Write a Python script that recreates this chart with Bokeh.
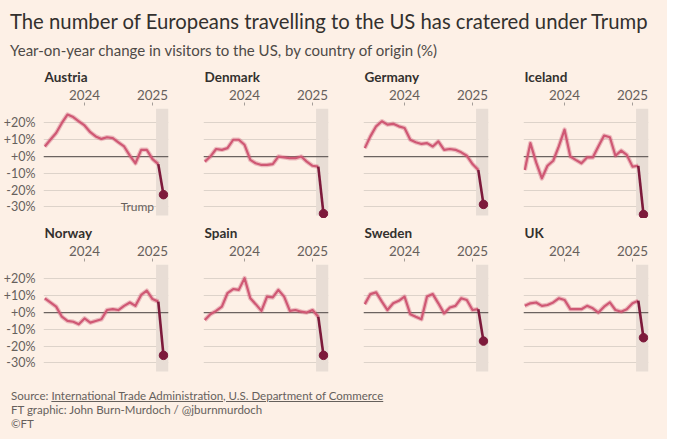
import pandas as pd
from bokeh.plotting import figure
from bokeh.models import (ColumnDataSource, FixedTicker, DatetimeTickFormatter, Span, Div,
                          Range1d, BoxAnnotation, LinearAxis)
from bokeh.layouts import column, row
from bokeh.embed import file_html
from bokeh.resources import INLINE
from bokeh.core.properties import value

# ---------------- data ----------------
months = ["2023-06", "2023-07", "2023-08", "2023-09", "2023-10", "2023-11", "2023-12",
          "2024-01", "2024-02", "2024-03", "2024-04", "2024-05", "2024-06", "2024-07",
          "2024-08", "2024-09", "2024-10", "2024-11", "2024-12", "2025-01", "2025-02",
          "2025-03"]

countries = ["Austria", "Denmark", "Germany", "Iceland", "Norway", "Spain", "Sweden", "UK"]

austria = [6, 10, 14, 20, 25, 23.5, 21, 18.5, 14.5, 12, 10.5, 11.5, 11, 8.5, 6, 0.5, -4, 4, 4, -1.5, -4.5, -22.7]
denmark = [-3, 0, 4.5, 4, 5, 10, 10, 7, -2, -4, -5, -5, -4.5, 0, -0.5, -1, -1, 0, -3, -5.5, -6, -34]
germany = [5, 12, 18, 21, 19, 19.5, 18, 17, 10, 8.5, 7.5, 8, 6, 9, 4, 4.5, 4, 2.5, 0.5, -4.5, -8, -28.5]
iceland = [-8, 8, -3.5, -13, -5.5, -2.5, 6, 16, 0, -2, -4, -0.5, -0.5, 6, 12.5, 11.5, 0.5, 3.5, 1, -6, -5.5, -34.5]
norway = [8.5, 6, 3.5, -2.5, -5, -5.5, -7, -3.5, -6, -5, -4, 1.5, 2, 1.5, 4, 6, 4, 10.5, 13, 8, 6.5, -25.5]
spain = [-4.5, -1, 1, 3.5, 11.5, 14, 13.5, 20.5, 8.5, 5, 1, 9.5, 9, 13.5, 9.5, 1, 1.5, 0.5, 0, 1.5, -2.5, -25.5]
sweden = [5, 11, 12, 6.5, 1.5, 5.5, 7, 9.5, -1, -2.5, -4, 9.5, 11, 5.5, -0.5, 3, 4, 8.5, 7.5, 1.5, 2, -17]
uk = [4, 5.5, 6, 4, 4.5, 6, 8.5, 7.5, 2, 2, 2, 4, 2.5, 0, 3.5, 6, 1.5, 0.5, 2, 5.5, 7, -15]

series = [austria, denmark, germany, iceland, norway, spain, sweden, uk]

year_ticks = ["2024-01-01", "2025-01-01"]
y_ticks = [20, 10, 0, -10, -20, -30]
y_tick_labels = ["+20%", "+10%", "+0%", "-10%", "-20%", "-30%"]
trump_start = "2025-01-20"
trump_label = "Trump"

TITLE = "The number of Europeans travelling to the US has cratered under Trump"
SUBTITLE = "Year-on-year change in visitors to the US, by country of origin (%)"
SOURCE_LINK = "International Trade Administration, U.S. Department of Commerce"
CREDIT = "FT graphic: John Burn-Murdoch / @jburnmurdoch"
COPY = "©FT"

# ---------------- style ----------------
FONT = "Lato"
BG = "#fdf0e6"
DARK_TEXT = "#33302e"
GREY = "#66605c"
GRID = "#ddd3ca"
SHADE = "#e8ddd5"
ZERO = "#6b6360"
PINK = "#cf5874"
MAROON = "#7d1a3b"

X_START = pd.Timestamp("2023-05-25")
X_END = pd.Timestamp("2025-03-28")
Y_MIN, Y_MAX = -36.9, 30.4
SHADE_TOP, SHADE_BOTTOM = 28.4, -35.1

dates = pd.to_datetime(months)


def ms(t):
    return pd.Timestamp(t).value / 1e6


def make_panel(name, vals, col, show_trump=False):
    left = col == 0
    border_left = 43 if left else 19
    border_right = 19 if col == 3 else 16
    w = border_left + 125 + border_right
    p = figure(width=w, height=156, x_axis_type="datetime",
               x_range=Range1d(X_START, X_END), y_range=Range1d(Y_MIN, Y_MAX),
               x_axis_location="above", y_axis_location=None,
               output_backend="svg", toolbar_location=None,
               min_border_left=border_left, min_border_right=border_right,
               min_border_top=43, min_border_bottom=0,
               background_fill_color=BG, border_fill_color=BG, outline_line_color=None,
               title=name)
    p.title.text_font = FONT
    p.title.text_font_size = "13.5px"
    p.title.text_font_style = "bold"
    p.title.text_color = DARK_TEXT
    p.title.align = "left"
    p.title.standoff = 3
    p.title.offset = 1

    xa = p.xaxis[0]
    xa.ticker = FixedTicker(ticks=[ms(t) for t in year_ticks])
    xa.formatter = DatetimeTickFormatter(days="%Y", months="%Y", years="%Y")
    xa.axis_line_color = None
    xa.major_tick_line_color = "#a59e99"
    xa.major_tick_out = 3
    xa.major_tick_in = 0
    xa.minor_tick_line_color = None
    xa.major_label_text_font = FONT
    xa.major_label_text_font_size = "13.4px"
    xa.major_label_text_color = GREY
    xa.major_label_standoff = 3

    p.xgrid.visible = False
    p.ygrid.ticker = FixedTicker(ticks=y_ticks)
    p.ygrid.grid_line_color = GRID
    p.ygrid.grid_line_width = 1

    if left:
        ya = LinearAxis(ticker=FixedTicker(ticks=y_ticks),
                        major_label_overrides={t: l for t, l in zip(y_ticks, y_tick_labels)})
        ya.axis_line_color = None
        ya.major_tick_line_color = None
        ya.minor_tick_line_color = None
        ya.major_label_text_font = FONT
        ya.major_label_text_font_size = "12.5px"
        ya.major_label_text_color = GREY
        ya.major_label_standoff = 2
        p.add_layout(ya, "left")

    p.add_layout(BoxAnnotation(left=ms(trump_start), top=SHADE_TOP, bottom=SHADE_BOTTOM,
                               fill_color=SHADE, fill_alpha=1, line_color=None,
                               level="underlay"))
    p.add_layout(Span(location=0, dimension="width", line_color=ZERO, line_width=1.2,
                      level="underlay"))

    src = ColumnDataSource(dict(x=dates[:-1], y=vals[:-1]))
    p.line("x", "y", source=src, line_color=PINK, line_width=4.5, line_alpha=0.35,
           line_join="round")
    p.line("x", "y", source=src, line_color=PINK, line_width=2.2, line_join="round")
    last = ColumnDataSource(dict(x=dates[-2:], y=vals[-2:]))
    p.line("x", "y", source=last, line_color=MAROON, line_width=2.6)
    p.scatter(x=[dates[-1]], y=[vals[-1]], size=8.5, fill_color=MAROON, line_color=MAROON)

    if show_trump:
        p.text(x=[pd.Timestamp(trump_start)], y=[y_ticks[-1]], text=[trump_label],
               text_align="right", text_baseline="middle", x_offset=-2,
               text_font=value(FONT), text_font_size="12px", text_color=GREY)
    return p


panels = [make_panel(c, v, i % 4, show_trump=(c == "Austria"))
          for i, (c, v) in enumerate(zip(countries, series))]

W = sum(p.width for p in panels[:4])

header = Div(
    text=(f'<div style="font-family:{FONT};color:{DARK_TEXT};font-size:20.3px;line-height:24px;'
          f'padding:9px 0 0 10px;white-space:nowrap;">{TITLE}</div>'
          f'<div style="font-family:{FONT};color:#4e4a47;font-size:15px;line-height:18px;'
          f'margin-top:8px;padding-left:10px;white-space:nowrap;">{SUBTITLE}</div>'),
    width=W, height=62, styles={"background-color": BG, "margin": "0"})

footer = Div(
    text=(f'<div style="font-family:{FONT};color:{GREY};font-size:11.5px;line-height:14.3px;'
          f'padding:14.5px 0 0 11px;white-space:nowrap;">'
          f'Source: <span style="text-decoration:underline;">{SOURCE_LINK}</span><br>'
          f'{CREDIT}<br>{COPY}</div>'),
    width=W, height=65, styles={"background-color": BG, "margin": "0"})

layout = column(header, row(*panels[:4], spacing=0), row(*panels[4:], spacing=0), footer,
                spacing=0, styles={"background-color": BG})

open("out.html", "w").write(file_html(layout, INLINE))
